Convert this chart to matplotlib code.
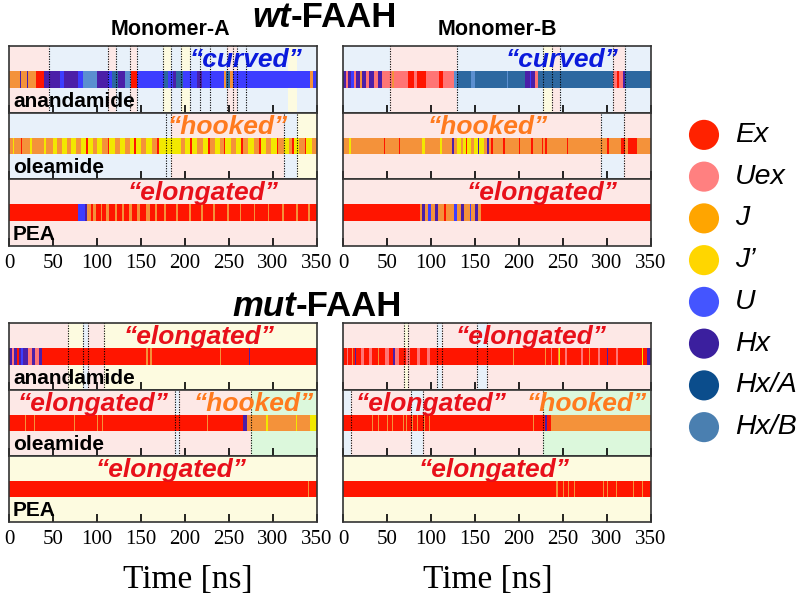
import matplotlib
matplotlib.use('Agg')
import matplotlib.pyplot as plt

plt.rcParams['font.family'] = ['Liberation Sans', 'DejaVu Sans']

# conformational states (legend order)
state_codes = ['Ex', 'Uex', 'J', 'Jp', 'U', 'Hx', 'HxA', 'HxB']
state_labels = ['Ex', 'Uex', 'J', 'J\u2019', 'U', 'Hx', 'Hx/A', 'Hx/B']
legend_colors = ['#ff2200', '#ff8080', '#ffa500', '#ffd600', '#4455ff', '#3b1f9e', '#0b4d8c', '#4a7fb0']
bar_colors = {'Ex': '#ff1500', 'Uex': '#ff7575', 'J': '#f4923a', 'Jp': '#f2e800',
              'U': '#3d3dff', 'Hx': '#4b1fa8', 'HxA': '#2d68a0', 'HxB': '#5b8fd0'}
bg_colors = {'p': '#fde8e6', 'b': '#e8f1fa', 'y': '#fdfbe0', 'g': '#dcf8dc'}

# state time series: (start time [ns], state) - each state lasts until the next start
wtA_ana = [(0, 'J'), (12, 'Hx'), (14, 'J'), (20, 'Hx'), (22, 'J'), (31, 'Ex'), (40, 'Hx'), (58, 'U'),
           (62, 'Hx'), (78, 'U'), (84, 'HxB'), (100, 'Hx'), (112, 'U'), (117, 'HxA'), (124, 'Hx'),
           (132, 'HxB'), (139, 'Ex'), (145, 'U'), (176, 'HxA'), (181, 'U'), (186, 'Hx'), (190, 'HxA'),
           (198, 'U'), (214, 'Hx'), (219, 'U'), (244, 'J'), (247, 'HxA'), (251, 'J'), (255, 'U'),
           (342, 'J'), (346, 'U')]
wtA_ole = [(0, 'J'), (5, 'Jp'), (6, 'J'), (14, 'Ex'), (15, 'J'), (24, 'Jp'), (26, 'J'), (40, 'Jp'),
           (42, 'J'), (50, 'Jp'), (55, 'J'), (60, 'Jp'), (66, 'J'), (70, 'Jp'), (76, 'J'), (82, 'Jp'),
           (88, 'Ex'), (90, 'Jp'), (96, 'J'), (100, 'Jp'), (106, 'J'), (112, 'Ex'), (114, 'Jp'),
           (120, 'J'), (126, 'Jp'), (132, 'J'), (138, 'Jp'), (142, 'Ex'), (144, 'Jp'), (150, 'J'),
           (156, 'Jp'), (162, 'J'), (168, 'Ex'), (170, 'Jp'), (196, 'J'), (200, 'Jp'), (206, 'Ex'),
           (208, 'Jp'), (214, 'J'), (220, 'Jp'), (226, 'Ex'), (228, 'J'), (234, 'Jp'), (240, 'J'),
           (244, 'Ex'), (246, 'Jp'), (252, 'J'), (258, 'Jp'), (264, 'Ex'), (266, 'J'), (272, 'Jp'),
           (278, 'J'), (284, 'Ex'), (286, 'Jp'), (292, 'J'), (298, 'Jp'), (304, 'Ex'), (306, 'J'),
           (312, 'Jp'), (318, 'J'), (322, 'Ex'), (324, 'Jp'), (330, 'J'), (336, 'Ex'), (338, 'Jp'),
           (344, 'J')]
wtA_pea = [(0, 'Ex'), (20, 'J'), (21, 'Ex'), (78, 'U'), (86, 'Hx'), (89, 'J'), (93, 'Ex'), (96, 'J'),
           (99, 'Ex'), (104, 'J'), (106, 'Ex'), (110, 'J'), (114, 'Ex'), (120, 'J'), (123, 'Ex'),
           (128, 'J'), (131, 'Ex'), (136, 'J'), (140, 'Ex'), (146, 'J'), (149, 'Ex'), (156, 'J'),
           (160, 'Ex'), (166, 'J'), (168, 'Ex'), (176, 'J'), (178, 'Ex'), (190, 'J'), (192, 'Ex'),
           (204, 'J'), (207, 'Ex'), (218, 'J'), (220, 'Ex'), (232, 'J'), (234, 'Ex'), (248, 'J'),
           (250, 'Ex'), (262, 'J'), (264, 'Ex'), (278, 'J'), (280, 'Ex'), (294, 'J'), (296, 'Ex'),
           (310, 'J'), (312, 'Ex'), (326, 'J'), (328, 'Ex'), (340, 'J'), (342, 'Ex')]
wtB_ana = [(0, 'Hx'), (3, 'Uex'), (6, 'Hx'), (9, 'U'), (12, 'Uex'), (15, 'Hx'), (19, 'J'), (22, 'Hx'),
           (26, 'Uex'), (30, 'Hx'), (35, 'Uex'), (40, 'Hx'), (44, 'Uex'), (56, 'J'), (58, 'Uex'),
           (74, 'Ex'), (81, 'Uex'), (84, 'Ex'), (94, 'Uex'), (109, 'Ex'), (114, 'Uex'), (126, 'HxB'),
           (130, 'HxA'), (146, 'HxB'), (150, 'HxA'), (170, 'U'), (171, 'HxA'), (186, 'HxB'),
           (188, 'HxA'), (207, 'Hx'), (212, 'U'), (214, 'Hx'), (218, 'Uex'), (222, 'HxA'),
           (307, 'Uex'), (311, 'Ex'), (314, 'Uex'), (318, 'Hx'), (320, 'HxA')]
wtB_ole = [(0, 'J'), (7, 'Jp'), (9, 'J'), (47, 'Ex'), (48, 'J'), (62, 'Jp'), (63, 'J'), (64, 'Ex'),
           (65, 'J'), (90, 'Jp'), (93, 'J'), (95, 'Ex'), (96, 'J'), (110, 'Jp'), (112, 'J'), (124, 'Hx'),
           (126, 'J'), (130, 'Jp'), (134, 'J'), (136, 'Jp'), (140, 'Ex'), (141, 'Jp'), (146, 'J'),
           (149, 'Jp'), (153, 'Hx'), (155, 'Jp'), (160, 'J'), (164, 'Hx'), (166, 'J'), (168, 'Ex'),
           (170, 'J'), (182, 'Ex'), (184, 'J'), (200, 'Ex'), (201, 'J'), (214, 'Ex'), (216, 'J'),
           (226, 'Ex'), (227, 'J'), (230, 'Ex'), (232, 'J'), (254, 'Ex'), (256, 'J'), (300, 'Ex'),
           (302, 'J'), (316, 'Ex'), (320, 'J'), (324, 'Ex'), (334, 'J')]
wtB_pea = [(0, 'Ex'), (87, 'J'), (90, 'Hx'), (93, 'J'), (97, 'U'), (100, 'J'), (104, 'Hx'), (108, 'J'),
           (115, 'Ex'), (117, 'J'), (126, 'U'), (130, 'J'), (134, 'Hx'), (138, 'J'), (144, 'U'),
           (146, 'J'), (150, 'Hx'), (153, 'J'), (157, 'Ex')]
mutA_ana = [(0, 'Hx'), (3, 'Uex'), (6, 'Hx'), (9, 'Ex'), (11, 'Hx'), (14, 'U'), (16, 'Hx'), (22, 'Uex'),
            (26, 'Hx'), (30, 'Uex'), (34, 'Hx'), (37, 'Ex'), (156, 'J'), (158, 'Ex'), (160, 'J'),
            (162, 'Ex'), (240, 'J'), (241, 'Ex'), (273, 'Hx'), (274, 'Ex')]
mutA_ole = [(0, 'Ex'), (12, 'J'), (13, 'Ex'), (18, 'J'), (19, 'Ex'), (28, 'J'), (29, 'Ex'), (74, 'J'),
            (75, 'Ex'), (100, 'J'), (101, 'Ex'), (106, 'J'), (107, 'Ex'), (112, 'J'), (113, 'Ex'),
            (225, 'J'), (226, 'Ex'), (266, 'Hx'), (270, 'J'), (292, 'Jp'), (294, 'J'), (326, 'Jp'),
            (327, 'J'), (342, 'Jp')]
mutA_pea = [(0, 'Ex'), (340, 'J'), (341, 'Ex')]
mutB_ana = [(0, 'Ex'), (4, 'Uex'), (6, 'Ex'), (10, 'J'), (11, 'Ex'), (14, 'Hx'), (15, 'Ex'), (20, 'Uex'),
            (24, 'Ex'), (30, 'Uex'), (33, 'Ex'), (40, 'J'), (41, 'Ex'), (48, 'Uex'), (52, 'Ex'),
            (57, 'Hx'), (59, 'Uex'), (64, 'Ex'), (72, 'Uex'), (76, 'Ex'), (84, 'Uex'), (87, 'Ex'),
            (96, 'Uex'), (99, 'Ex'), (193, 'J'), (194, 'Ex'), (230, 'J'), (231, 'Ex'), (236, 'Uex'),
            (238, 'Ex'), (244, 'J'), (246, 'Jp'), (247, 'Ex'), (252, 'Uex'), (255, 'Ex'), (262, 'Hx'),
            (263, 'Ex'), (270, 'Uex'), (273, 'Ex'), (280, 'J'), (281, 'Ex'), (290, 'Uex'), (292, 'Ex'),
            (300, 'Hx'), (301, 'Ex'), (310, 'Uex'), (313, 'Ex'), (320, 'J'), (321, 'Ex'), (340, 'Jp'),
            (341, 'Ex'), (346, 'Hx')]
mutB_ole = [(0, 'Ex'), (33, 'J'), (34, 'Ex'), (40, 'J'), (41, 'Ex'), (50, 'J'), (51, 'Ex'), (56, 'J'),
            (57, 'Ex'), (62, 'J'), (63, 'Ex'), (68, 'J'), (69, 'Ex'), (72, 'J'), (73, 'Ex'), (78, 'J'),
            (79, 'Ex'), (84, 'J'), (85, 'Ex'), (92, 'J'), (93, 'Ex'), (98, 'J'), (99, 'Ex'), (216, 'J'),
            (217, 'Ex'), (229, 'Hx'), (232, 'Ex'), (236, 'J')]
mutB_pea = [(0, 'Ex'), (237, 'J'), (238, 'Ex'), (242, 'J'), (244, 'Ex'), (250, 'J'), (251, 'Ex'),
            (256, 'J'), (257, 'Ex'), (262, 'J'), (264, 'Ex'), (270, 'J'), (271, 'Ex'), (296, 'J'),
            (297, 'Ex'), (300, 'J'), (301, 'Ex'), (310, 'J'), (311, 'Ex'), (320, 'J'), (321, 'Ex'),
            (330, 'J'), (331, 'Ex'), (340, 'J'), (341, 'Ex')]

# shaded background windows (start, end, colour key) and dotted boundaries
wtA_ana_bg = [(0, 45, 'p'), (45, 350, 'b'), (112, 122, 'p'), (137, 146, 'p'), (175, 184, 'y'),
              (196, 206, 'y'), (248, 259, 'p'), (317, 327, 'y')]
wtA_ana_dash = [45, 112, 122, 137, 146, 175, 184, 196, 206, 217, 228, 248, 254, 259, 269]
wtA_ole_bg = [(0, 184, 'b'), (184, 312, 'p'), (312, 327, 'b'), (327, 350, 'y')]
wtA_ole_dash = [178, 184, 312, 327]
wtB_ana_bg = [(0, 53, 'b'), (53, 129, 'p'), (129, 350, 'b'), (227, 237, 'y'), (237, 247, 'p'),
              (307, 321, 'p')]
wtB_ana_dash = [53, 129, 227, 237, 247, 307, 321]
wtB_ole_bg = [(0, 350, 'p'), (293, 319, 'b')]
wtB_ole_dash = [293, 319]
mutA_ana_bg = [(0, 67, 'p'), (67, 350, 'y'), (84, 90, 'b'), (90, 108, 'p')]
mutA_ana_dash = [67, 84, 90, 108]
mutA_ole_bg = [(0, 189, 'p'), (189, 193, 'b'), (193, 275, 'p'), (275, 350, 'g')]
mutA_ole_dash = [189, 193, 275]
mutB_ana_bg = [(0, 350, 'p'), (69, 74, 'y'), (107, 112, 'b'), (152, 164, 'b')]
mutB_ana_dash = [69, 74, 107, 112, 152, 164]
mutB_ole_bg = [(0, 9, 'b'), (9, 350, 'p'), (77, 91, 'b'), (227, 350, 'g')]
mutB_ole_dash = [9, 77, 91, 227]
pink_bg = [(0, 350, 'p')]
yellow_bg = [(0, 350, 'y')]

# conformation labels: (text, x position [ns], colour)
curved = ('\u201ccurved\u201d', '#0a1adc')
hooked = ('\u201chooked\u201d', '#ff7a1e')
elong = ('\u201celongated\u201d', '#e8101a')

W, H = 800, 597
fig = plt.figure(figsize=(8, 5.97), dpi=100)


def px_axes(x0, y0, x1, y1):
    return fig.add_axes([x0 / W, 1 - y1 / H, (x1 - x0) / W, (y1 - y0) / H])


col_x = [(9, 317), (343, 651)]
row_y = [[(46, 113), (113, 179), (179, 246)], [(323, 390), (390, 456), (456, 522)]]

panels = [
    # group, col, row, series, bg, dashes, labels, name
    (0, 0, 0, wtA_ana, wtA_ana_bg, wtA_ana_dash, [(curved, 269)], 'anandamide'),
    (0, 0, 1, wtA_ole, wtA_ole_bg, wtA_ole_dash, [(hooked, 248)], 'oleamide'),
    (0, 0, 2, wtA_pea, pink_bg, [], [(elong, 220)], 'PEA'),
    (0, 1, 0, wtB_ana, wtB_ana_bg, wtB_ana_dash, [(curved, 249)], None),
    (0, 1, 1, wtB_ole, wtB_ole_bg, wtB_ole_dash, [(hooked, 164)], None),
    (0, 1, 2, wtB_pea, pink_bg, [], [(elong, 226)], None),
    (1, 0, 0, mutA_ana, mutA_ana_bg, mutA_ana_dash, [(elong, 216)], 'anandamide'),
    (1, 0, 1, mutA_ole, mutA_ole_bg, mutA_ole_dash, [(elong, 96), (hooked, 278)], 'oleamide'),
    (1, 0, 2, mutA_pea, yellow_bg, [], [(elong, 184)], 'PEA'),
    (1, 1, 0, mutB_ana, mutB_ana_bg, mutB_ana_dash, [(elong, 214)], None),
    (1, 1, 1, mutB_ole, mutB_ole_bg, mutB_ole_dash, [(elong, 100), (hooked, 277)], None),
    (1, 1, 2, mutB_pea, yellow_bg, [], [(elong, 172)], None),
]

for g, c, r, series, bg, dashes, labels, name in panels:
    x0, x1 = col_x[c]
    y0, y1 = row_y[g][r]
    ax = px_axes(x0, y0, x1, y1)
    for a, b, k in bg:
        ax.axvspan(a, b, color=bg_colors[k], lw=0, zorder=0)
    starts = [t for t, s in series]
    ends = starts[1:] + [350]
    xr = [(a, b - a) for a, b in zip(starts, ends)]
    cols = [bar_colors[s] for t, s in series]
    ax.broken_barh(xr, (0.375, 0.245), facecolors=cols, edgecolors='none', zorder=2)
    for d in dashes:
        ax.axvline(d, color='k', ls=(0, (1, 1.3)), lw=0.8, zorder=3)
    for (txt, col), xpos in labels:
        ax.text(xpos, 0.68, txt, color=col, fontsize=19, fontweight='bold', fontstyle='italic',
                ha='center', va='baseline', zorder=4)
    if name:
        ax.text(4.5, 0.09, name, fontsize=15, fontweight='bold', ha='left', va='baseline', zorder=4)
    ax.set_xlim(0, 350)
    ax.set_ylim(0, 1)
    ax.set_yticks([])
    ax.set_xticks(range(0, 351, 50))
    ax.tick_params(axis='x', direction='in', length=6, width=1.2, pad=6,
                   labelbottom=(r == 2), labelsize=15)
    for lab in ax.get_xticklabels():
        lab.set_family('Liberation Serif')
    for sp in ax.spines.values():
        sp.set_color('#333333')
        sp.set_linewidth(1.2)

# titles
fig.text(291 / W, 1 - 27 / H, 'wt', fontsize=25, fontweight='bold', fontstyle='italic', ha='right', va='baseline')
fig.text(291 / W, 1 - 27 / H, '-FAAH', fontsize=25, fontweight='bold', ha='left', va='baseline')
fig.text(296 / W, 1 - 316 / H, 'mut', fontsize=25, fontweight='bold', fontstyle='italic', ha='right', va='baseline')
fig.text(296 / W, 1 - 316 / H, '-FAAH', fontsize=25, fontweight='bold', ha='left', va='baseline')
fig.text(170 / W, 1 - 35 / H, 'Monomer-A', fontsize=15.5, fontweight='bold', ha='center', va='baseline')
fig.text(497 / W, 1 - 35 / H, 'Monomer-B', fontsize=15.5, fontweight='bold', ha='center', va='baseline')
for xc in [188, 488]:
    fig.text(xc / W, 1 - 588 / H, 'Time [ns]', fontsize=24, family='Liberation Serif',
             ha='center', va='baseline')

# legend of states
lax = px_axes(680, 114, 800, 448)
lax.set_xlim(0, 120)
lax.set_ylim(7.5, -0.5)
lax.axis('off')
idx = list(range(len(state_codes)))
lax.scatter([24] * len(idx), idx, s=470, c=legend_colors, edgecolors='none')
for i, lab in zip(idx, state_labels):
    lax.text(55, i, lab, fontsize=20.5, fontstyle='italic', ha='left', va='center')

fig.savefig('out.png', dpi=100)
